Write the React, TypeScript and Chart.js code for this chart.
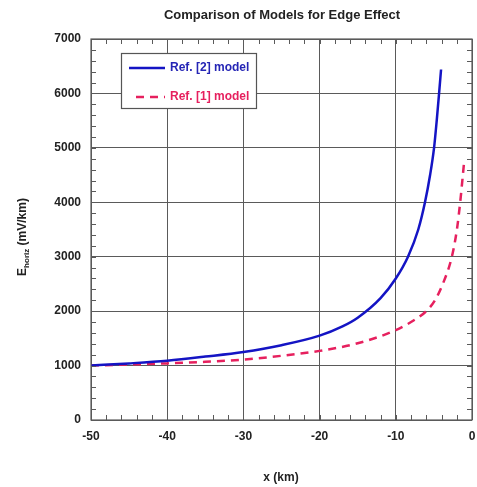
import React, { useEffect, useRef } from "react";
import { Chart, registerables } from "chart.js";

Chart.register(...registerables);

const titleText = "Comparison of Models for Edge Effect";
const xTitle = "x (km)";
const seriesNames = ["Ref. [2] model", "Ref. [1] model"];

const ref2X = [-50, -45, -40, -35, -30, -25, -20, -17, -15, -12, -10, -8.4, -7.05, -6.17, -5.5, -4.98, -4.63, -4.32, -4.06];
const ref2Y = [1000, 1040, 1090, 1165, 1250, 1375, 1550, 1720, 1880, 2240, 2600, 3000, 3500, 4000, 4500, 5000, 5500, 6000, 6440];

const ref1X = [-50, -45, -40, -35, -30, -25, -20, -15, -10, -8, -6, -4.85, -3.83, -2.64, -1.98, -1.55, -1.2, -1.05];
const ref1Y = [1000, 1020, 1040, 1070, 1110, 1180, 1270, 1410, 1650, 1800, 2000, 2200, 2500, 3000, 3500, 4000, 4500, 4720];

const BLUE = "#1414c4";
const RED = "#e6205e";
const GRID = "#5a5a5a";
const FONT = "'Liberation Sans', Arial, sans-serif";

const decorPlugin = {
  id: "decor",
  afterDraw(chart: any) {
    const ctx = chart.ctx;
    const a = chart.chartArea;
    const xs = chart.scales.x;
    const ys = chart.scales.y;
    ctx.save();
    ctx.strokeStyle = GRID;
    ctx.lineWidth = 1.2;
    ctx.strokeRect(a.left, a.top, a.right - a.left, a.bottom - a.top);
    ctx.lineWidth = 1;
    const tl = 5;
    for (let v = -50; v <= 0; v += 2) {
      const px = Math.round(xs.getPixelForValue(v)) + 0.5;
      ctx.beginPath();
      ctx.moveTo(px, a.bottom);
      ctx.lineTo(px, a.bottom - tl);
      ctx.moveTo(px, a.top);
      ctx.lineTo(px, a.top + tl);
      ctx.stroke();
    }
    for (let v = 0; v <= 7000; v += 200) {
      const py = Math.round(ys.getPixelForValue(v)) + 0.5;
      ctx.beginPath();
      ctx.moveTo(a.left, py);
      ctx.lineTo(a.left + tl, py);
      ctx.moveTo(a.right, py);
      ctx.lineTo(a.right - tl, py);
      ctx.stroke();
    }
    ctx.fillStyle = "#222";
    ctx.font = `bold 13px ${FONT}`;
    ctx.textAlign = "center";
    ctx.textBaseline = "middle";
    ctx.fillText(titleText, 282, 15);
    ctx.font = `bold 12px ${FONT}`;
    ctx.fillText(xTitle, 281, 478);
    ctx.save();
    ctx.translate(23, 237);
    ctx.rotate(-Math.PI / 2);
    ctx.textAlign = "left";
    ctx.textBaseline = "middle";
    const p1 = "E";
    const p2 = "horiz";
    const p3 = " (mV/km)";
    ctx.font = `bold 12px ${FONT}`;
    const w1 = ctx.measureText(p1).width;
    const w3 = ctx.measureText(p3).width;
    ctx.font = `bold 8px ${FONT}`;
    const w2 = ctx.measureText(p2).width;
    const total = w1 + w2 + w3;
    let x0 = -total / 2;
    ctx.font = `bold 12px ${FONT}`;
    ctx.fillText(p1, x0, 0);
    x0 += w1;
    ctx.font = `bold 8px ${FONT}`;
    ctx.fillText(p2, x0, 4);
    x0 += w2;
    ctx.font = `bold 12px ${FONT}`;
    ctx.fillText(p3, x0, 0);
    ctx.restore();
    ctx.fillStyle = "#fff";
    ctx.fillRect(121, 53, 136, 55);
    ctx.strokeStyle = "#555";
    ctx.lineWidth = 1.2;
    ctx.strokeRect(121.5, 53.5, 135, 55);
    ctx.lineWidth = 2.5;
    ctx.strokeStyle = BLUE;
    ctx.beginPath();
    ctx.moveTo(129, 68);
    ctx.lineTo(165, 68);
    ctx.stroke();
    ctx.strokeStyle = RED;
    ctx.setLineDash([8, 6]);
    ctx.beginPath();
    ctx.moveTo(136, 97);
    ctx.lineTo(165, 97);
    ctx.stroke();
    ctx.setLineDash([]);
    ctx.font = `bold 12px ${FONT}`;
    ctx.textAlign = "left";
    ctx.fillStyle = "#2525b5";
    ctx.fillText(seriesNames[0], 170, 68);
    ctx.fillStyle = RED;
    ctx.fillText(seriesNames[1], 170, 97);
    ctx.restore();
  },
};

const bgPlugin = {
  id: "bg",
  beforeDraw(chart: any) {
    const ctx = chart.ctx;
    ctx.save();
    ctx.fillStyle = "#fff";
    ctx.fillRect(0, 0, chart.width, chart.height);
    ctx.restore();
  },
};

export default function App() {
  const ref = useRef<HTMLCanvasElement | null>(null);
  useEffect(() => {
    if (!ref.current) return;
    const chart = new Chart(ref.current, {
      type: "line",
      data: {
        datasets: [
          {
            label: seriesNames[0],
            data: ref2X.map((x, i) => ({ x, y: ref2Y[i] })),
            borderColor: BLUE,
            borderWidth: 2.5,
            pointRadius: 0,
            cubicInterpolationMode: "monotone",
            fill: false,
          },
          {
            label: seriesNames[1],
            data: ref1X.map((x, i) => ({ x, y: ref1Y[i] })),
            borderColor: RED,
            borderWidth: 2.5,
            borderDash: [8, 6],
            pointRadius: 0,
            cubicInterpolationMode: "monotone",
            fill: false,
          },
        ],
      },
      options: {
        responsive: false,
        animation: false,
        layout: { padding: { top: 39, right: 5, left: 0, bottom: 0 } },
        plugins: {
          legend: { display: false },
          title: { display: false },
          tooltip: { enabled: false },
        },
        scales: {
          x: {
            type: "linear",
            min: -50,
            max: 0,
            ticks: {
              stepSize: 10,
              color: "#222",
              font: { family: FONT, size: 12, weight: "bold" },
              padding: 9,
              maxRotation: 0,
              callback: (v: any) => String(v),
            },
            grid: { color: GRID, lineWidth: 1, drawTicks: false },
            border: { display: false },
            afterFit(scale: any) {
              scale.height = 67;
              scale.paddingRight = 0;
              scale.paddingLeft = 0;
            },
          },
          y: {
            type: "linear",
            min: 0,
            max: 7000,
            ticks: {
              stepSize: 1000,
              color: "#222",
              font: { family: FONT, size: 12, weight: "bold" },
              padding: 10,
              callback: (v: any) => String(v),
            },
            grid: { color: GRID, lineWidth: 1, drawTicks: false },
            border: { display: false },
            afterFit(scale: any) {
              scale.width = 91;
              scale.paddingTop = 0;
              scale.paddingBottom = 0;
            },
          },
        },
      },
      plugins: [bgPlugin, decorPlugin],
    } as any);
    return () => chart.destroy();
  }, []);
  return (
    <div style={{ position: "absolute", left: 0, top: 0, width: 477, height: 487, background: "#fff" }}>
      <canvas ref={ref} width={477} height={487} style={{ display: "block" }} />
    </div>
  );
}
